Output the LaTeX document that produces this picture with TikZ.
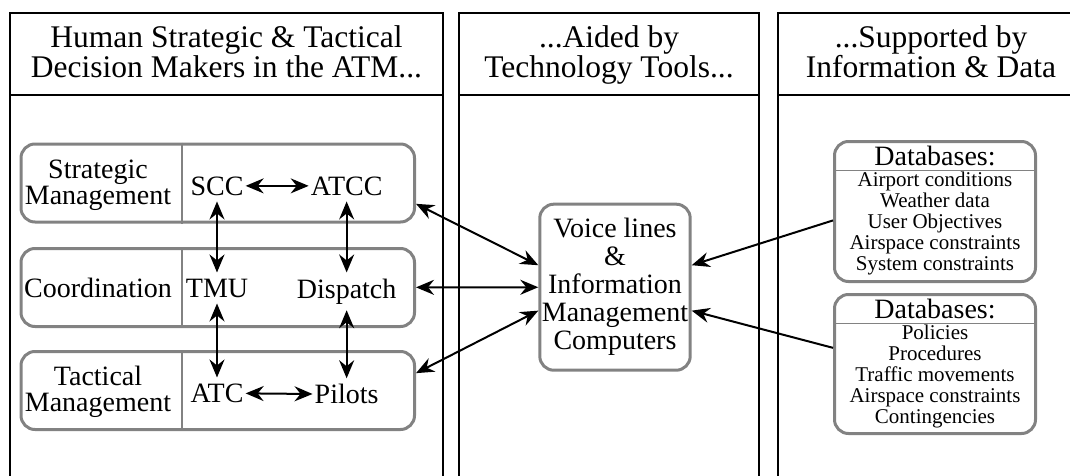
\documentclass[tikz,border=0pt]{standalone}
\usepackage{fontspec}
\setmainfont{Liberation Serif}
\usetikzlibrary{arrows.meta,positioning}
\definecolor{boxgray}{RGB}{130,130,130}
\newcommand\hdfont{\fontsize{31.5}{29.5}\selectfont\lineskiplimit=-20pt\relax}
\newcommand\txtfont{\fontsize{28}{28}\selectfont\lineskiplimit=-20pt\relax}
\newcommand\twofont{\fontsize{28}{26}\selectfont\lineskiplimit=-20pt\relax}
\newcommand\listfont{\fontsize{21}{21}\selectfont\lineskiplimit=-20pt\relax}

\begin{document}
\begin{tikzpicture}[x=1pt,y=-1pt,
		colline/.style={line width=1.5pt},
		head/.style={align=center,inner sep=0pt,text depth=7pt,font=\hdfont},
		rowbox/.style={draw=boxgray,line width=3pt,rounded corners=14pt,minimum width=393.5pt,minimum height=78pt,inner sep=0pt},
		divider/.style={draw=boxgray,line width=1.5pt},
		txt/.style={align=center,inner xsep=2pt,inner ysep=6pt,font=\txtfont},
		twoline/.style={txt,font=\twofont},
		dbbox/.style={draw=boxgray,line width=3pt,rounded corners=14pt,minimum width=201pt,inner sep=0pt},
		dbhead/.style={inner xsep=0pt,inner ysep=5pt,font=\txtfont},
		dblist/.style={align=center,inner sep=1pt,font=\listfont},
		link/.style={line width=2pt,{Stealth[length=18pt,width=15pt,inset=6pt]}-{Stealth[length=18pt,width=15pt,inset=6pt]}},
		feed/.style={line width=2pt,-{Stealth[length=18pt,width=15pt,inset=6pt]}}
	]
	\useasboundingbox (0,0) rectangle (1070,476);

	\draw[colline] (10,476) -- (10,13) -- (443,13) -- (443,476) (10,95) -- (443,95);
	\draw[colline] (459,476) -- (459,13) -- (759,13) -- (759,476) (459,95) -- (759,95);
	\draw[colline] (778,476) -- (778,13) -- (1072,13) (778,95) -- (1072,95);
	\node[head] (h1) at (226.5,55) {Human Strategic \& Tactical\\Decision Makers in the ATM...};
	\node[head] (h2) at (609,55) {...Aided by\\Technology Tools...};
	\node[head] (h3) at (931,55) {...Supported by\\Information \& Data};

	\node[rowbox] (sm) at (217.75,183) {};
	\node[rowbox] (co) at (217.75,287.5) {};
	\node[rowbox] (tm) at (217.75,390.5) {};
	\coordinate (dv) at (182,0);
	\foreach \b in {sm,co,tm}
		\draw[divider] (\b.north -| dv) -- (\b.south -| dv);

	\node[twoline] (smt) at (98,185) {Strategic\\Management};
	\node[txt,anchor=base] (cot) at (98,297) {Coordination};
	\node[twoline] (tmt) at (98,392) {Tactical\\Management};

	\node[txt,anchor=base] (scc) at (217,195) {SCC};
	\node[txt,right=63pt of scc] (atcc) {ATCC};
	\node[txt,below=71pt of scc] (tmu) {TMU};
	\node[txt,below=71pt of atcc] (disp) {Dispatch};
	\node[txt,below=74pt of tmu] (atc) {ATC};
	\node[txt,below=68pt of disp] (pil) {Pilots};
	\draw[link] (scc) -- (atcc);
	\draw[link] (atc) -- (pil);
	\draw[link] (scc) -- (tmu);
	\draw[link] (atcc) -- (disp);
	\draw[link] (tmu) -- (atc);
	\draw[link] (disp) -- (pil);

	\node[rowbox,txt,minimum width=150.4pt,minimum height=166pt,inner sep=0pt] (cmp) at (615,287.2)
		{Voice lines\\\&\\Information\\Management\\Computers};
	\draw[link] (sm.-6) -- (cmp.164);
	\draw[link] (co) -- (cmp);
	\draw[link] (tm.5) -- (cmp.197);

	\node[dbbox,minimum height=140pt] (db1) at (935,211.5) {};
	\node[dbhead,below=0.5pt of db1.north] (db1h) {Databases:};
	\node[dblist,below=0pt of db1h] (db1l) {Airport conditions\\Weather data\\User Objectives\\Airspace constraints\\System constraints};
	\draw[divider] (db1.west |- db1h.south) -- (db1.east |- db1h.south);

	\node[dbbox,minimum height=139pt] (db2) at (935,364) {};
	\node[dbhead,below=0.5pt of db2.north] (db2h) {Databases:};
	\node[dblist,below=0pt of db2h] (db2l) {Policies\\Procedures\\Traffic movements\\Airspace constraints\\Contingencies};
	\draw[divider] (db2.west |- db2h.south) -- (db2.east |- db2h.south);

	\draw[feed] (db1.185) -- (cmp.16);
	\draw[feed] (db2.171) -- (cmp.-17);
\end{tikzpicture}
\end{document}
